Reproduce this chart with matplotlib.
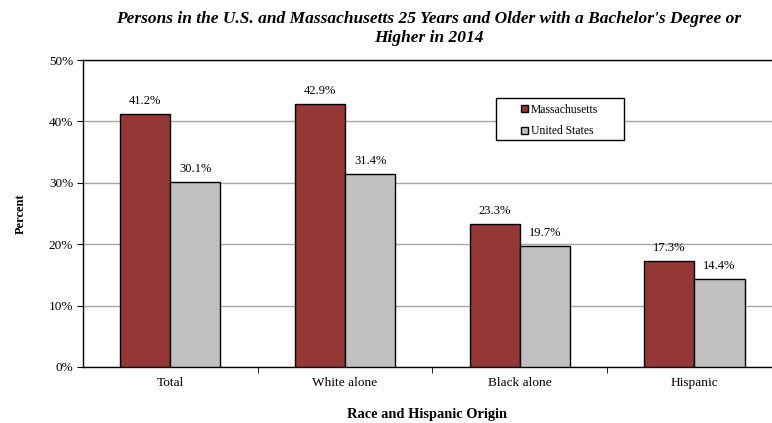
import matplotlib.pyplot as plt
from matplotlib.patches import Rectangle
import numpy as np

categories = ["Total", "White alone", "Black alone", "Hispanic"]
massachusetts = [41.2, 42.9, 23.3, 17.3]
united_states = [30.1, 31.4, 19.7, 14.4]

plt.rcParams['font.family'] = ['Liberation Serif', 'DejaVu Serif']

fig = plt.figure(figsize=(7.72, 4.23), dpi=100)
ax = fig.add_axes([0.1075, 0.1324, 0.8925, 0.7256])

x = np.arange(len(categories))
w = 0.287
b1 = ax.bar(x - w / 2, massachusetts, w, color='#953735', edgecolor='black',
            linewidth=1, label='Massachusetts', zorder=3)
b2 = ax.bar(x + w / 2, united_states, w, color='#C0C0C0', edgecolor='black',
            linewidth=1, label='United States', zorder=3)

for bars, vals in ((b1, massachusetts), (b2, united_states)):
    for r, v in zip(bars, vals):
        ax.text(r.get_x() + r.get_width() / 2, v + 1.1, f"{v:.1f}%",
                ha='center', va='bottom', fontsize=9)

ax.set_ylim(0, 50)
ax.set_yticks(range(0, 51, 10))
ax.set_yticklabels([f"{t}%" for t in range(0, 51, 10)], fontsize=9.5)
ax.yaxis.grid(True, color='#A6A6A6', linewidth=1, zorder=0)
ax.set_xlim(-0.5, 3.444)

ax.set_xticks(x)
ax.set_xticklabels(categories, fontsize=9.6)
ax.tick_params(axis='x', length=0, pad=7)
ax.set_xticks([0.5, 1.5, 2.5], minor=True)
ax.tick_params(axis='x', which='minor', length=4, direction='out', color='black')
ax.tick_params(axis='y', length=4, direction='out', color='black', pad=3)

ax.spines['right'].set_visible(False)
for s in ('left', 'bottom', 'top'):
    ax.spines[s].set_color('black')
    ax.spines[s].set_linewidth(1)

ax.set_ylabel('Percent', fontsize=9, fontweight='bold', labelpad=16)
ax.set_xlabel('Race and Hispanic Origin', fontsize=10.4, fontweight='bold', labelpad=14)

fig.text(0.555, 0.975, "Persons in the U.S. and Massachusetts 25 Years and Older with a Bachelor's Degree or\nHigher in 2014",
         ha='center', va='top', fontsize=12.5, fontweight='bold', style='italic', linespacing=1.25)

# legend box drawn separately so the padding can be wider than tall
ax.add_patch(Rectangle((0.5994, 0.739), 0.1858, 0.137, transform=ax.transAxes,
                       facecolor='white', edgecolor='black', linewidth=1, zorder=4))
leg = ax.legend(loc='center', bbox_to_anchor=(0.692, 0.803), fontsize=8.4,
                frameon=False, handlelength=0.6, handleheight=0.6,
                handletextpad=0.2, labelspacing=0.85, borderpad=0, borderaxespad=0)
leg.set_zorder(5)

plt.savefig('out.png', dpi=100, facecolor='white')
